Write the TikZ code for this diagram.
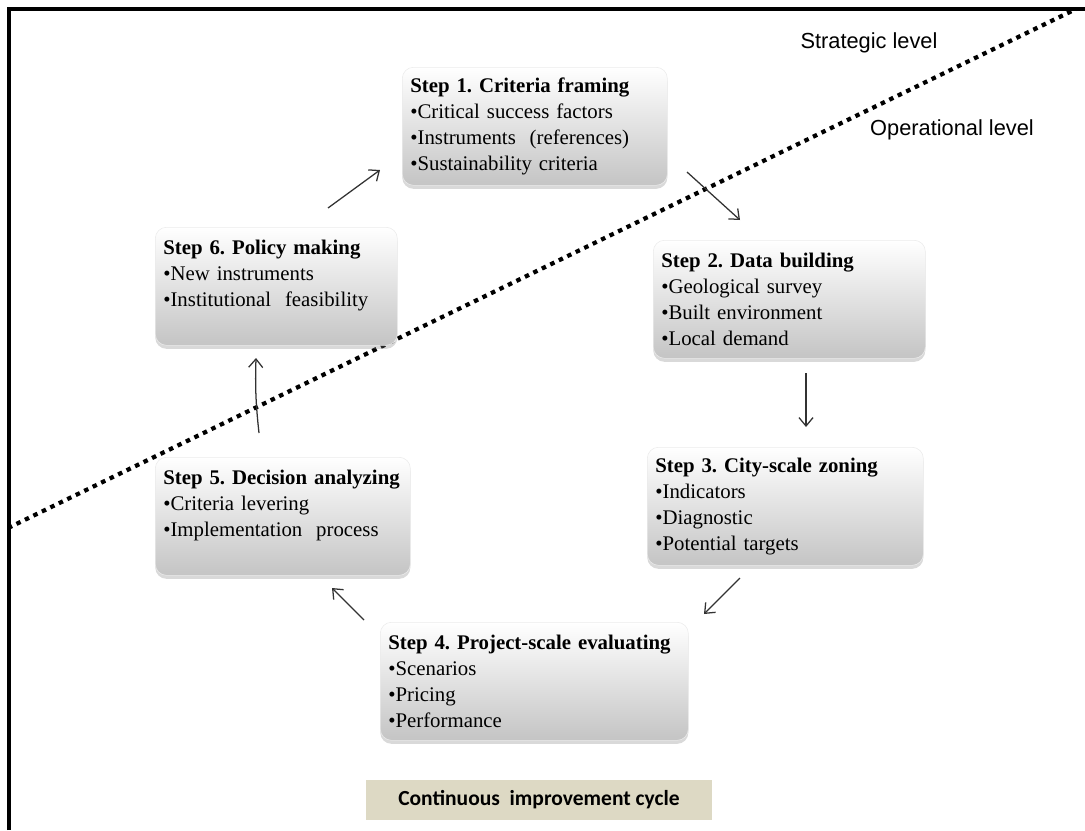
\documentclass[tikz,border=0pt]{standalone}
\usepackage{fontspec}
\setmainfont{Liberation Serif}
\newfontfamily\levelsans{Liberation Sans}
\newfontfamily\cyclesans{Carlito}
\usetikzlibrary{arrows.meta,shadows}

\definecolor{cyclebg}{RGB}{221,217,196}
\definecolor{arrowgray}{RGB}{50,50,50}
\frenchspacing
\hyphenpenalty=10000

\begin{document}
\begin{tikzpicture}[x=0.025cm, y=-0.025cm,
    stepbox/.style={anchor=north west, rounded corners=8pt, draw=black!8,
        top color=white, bottom color=black!23,
        drop shadow={shadow xshift=0pt, shadow yshift=-2.5pt, opacity=0.3},
        minimum height=2.95cm, inner xsep=0.2cm, text width=#1, align=left,
        font=\fontsize{14.8}{18.5}\selectfont},
    cyclearrow/.style={draw=arrowgray, line width=0.9pt, -{Straight Barb[length=6pt, width=10pt]}},
    leveltext/.style={font=\levelsans\fontsize{15.5}{18}\selectfont},
    levelline/.style={line width=3pt, dash pattern=on 3.2pt off 3.5pt}]

            \useasboundingbox (0,0) rectangle (1085,830);
            \draw[line width=2.2pt] (9,830) -- (9,9) -- (1085,9);

            \coordinate (lvlL) at (8,528);
            \coordinate (lvlR) at (1076,9);
            \draw[levelline] (lvlL) -- (lvlR);

            \node[leveltext] (strategic) at (869,43) {Strategic level};
            \node[leveltext] (operational) at (952,130) {Operational level};

            \node[stepbox=6.225cm] (s1) at (402,67) {\textbf{Step 1. Criteria framing}\\\textbullet Critical success factors\\\textbullet Instruments\ \ (references)\\\textbullet Sustainability criteria};
            \node[stepbox=6.4cm] (s2) at (653,240) {\textbf{Step 2. Data building}\\\textbullet Geological survey\\\textbullet Built environment\\\textbullet Local demand};
            \node[stepbox=6.5cm] (s3) at (647,447) {\textbf{Step 3. City-scale zoning}\\\textbullet Indicators\\\textbullet Diagnostic\\\textbullet Potential targets};
            \node[stepbox=7.3cm] (s4) at (380,622) {\textbf{Step 4. Project-scale evaluating}\\\textbullet Scenarios\\\textbullet Pricing\\\textbullet Performance};
            \node[stepbox=5.975cm] (s5) at (155,457) {\textbf{Step 5. Decision analyzing}\\\textbullet Criteria levering\\\textbullet Implementation\ \ process\\~};
            \node[stepbox=5.65cm] (s6) at (155,227) {\textbf{Step 6. Policy making}\\\textbullet New instruments\\\textbullet Institutional\ \ feasibility\\~};

            \coordinate (t12) at (687,172);
            \coordinate (h12) at (740,220);
            \coordinate (t23) at (806,373);
            \coordinate (h23) at (806,427);
            \coordinate (t34) at (740,578);
            \coordinate (h34) at (704,614);
            \coordinate (t45) at (364,620);
            \coordinate (h45) at (332,588);
            \coordinate (t56) at (259,433);
            \coordinate (h56) at (256,358);
            \coordinate (t61) at (328,208);
            \coordinate (h61) at (380,170);

            \draw[cyclearrow] (t12) -- (h12);
            \draw[cyclearrow] (t23) -- (h23);
            \draw[cyclearrow] (t34) -- (h34);
            \draw[cyclearrow] (t45) -- (h45);
            \draw[cyclearrow] (t56) to[bend left=4] (h56);
            \draw[cyclearrow] (t61) -- (h61);

            \node[fill=cyclebg, minimum width=8.625cm, minimum height=1cm,
                font=\cyclesans\bfseries\fontsize{15.3}{18}\selectfont] (cycle) at (539,800) {Continuous\ \ improvement cycle};
        \end{tikzpicture}
\end{document}
